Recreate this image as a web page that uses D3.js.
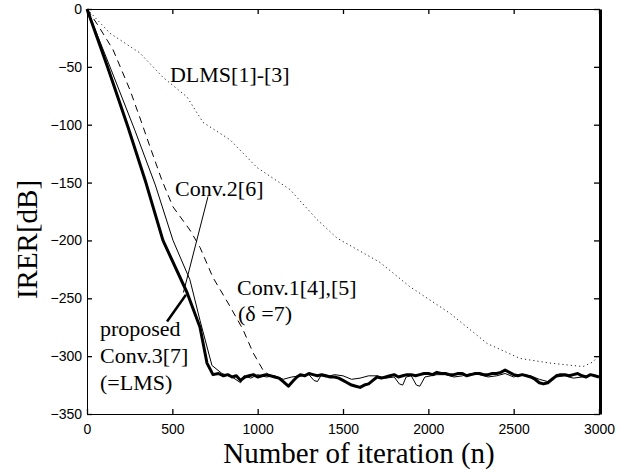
<!DOCTYPE html>
<html>
<head>
<meta charset="utf-8">
<script src="https://cdn.jsdelivr.net/npm/d3@7"></script>
<style>
  body { margin: 0; background: #fff; }
</style>
</head>
<body>
<script>
var W = 631, H = 476;
var margin = { top: 9, right: 32, bottom: 62, left: 87 };
var SERIF = "'Liberation Serif', 'Times New Roman', serif";
var SANS = "'Liberation Sans', Arial, sans-serif";

// tick values
var xTicks = [0, 500, 1000, 1500, 2000, 2500, 3000];
var yTicks = [0, -50, -100, -150, -200, -250, -300, -350];

// series: [iteration, IRER dB]
var dlms = [[0, 0], [135, -21], [310, -38], [445, -59], [586, -76], [680, -98], [838, -113],
  [996, -137], [1189, -156], [1348, -182], [1465, -198], [1717, -219], [1892, -240],
  [2127, -263], [2344, -289], [2537, -302], [2713, -306], [2906, -309], [2965, -305], [3000, -299]];

var conv1 = [[0, 0], [64, -14], [152, -35], [252, -70], [322, -99], [369, -119], [439, -148],
  [504, -171], [603, -191], [662, -206], [738, -232], [838, -257], [914, -277], [973, -297],
  [1031, -312], [1072, -317], [1100, -318]];

var conv2 = [[0, 0], [140, -52], [281, -105], [400, -152], [504, -200], [603, -234], [662, -269],
  [732, -308], [791, -315], [850, -318], [900, -323], [920, -317], [960, -319], [1000, -316],
  [1050, -318], [1100, -317], [1150, -320], [1200, -318], [1250, -317], [1300, -316],
  [1330, -321], [1350, -322], [1370, -317], [1400, -318], [1450, -316], [1500, -317],
  [1550, -320], [1600, -319], [1650, -317], [1700, -317], [1750, -319], [1800, -318],
  [1830, -324], [1850, -325], [1870, -318], [1900, -317], [1930, -325], [1950, -326],
  [1980, -318], [2050, -316], [2100, -316], [2150, -318], [2200, -317], [2250, -315],
  [2300, -316], [2350, -318], [2400, -317], [2450, -315], [2500, -318], [2550, -316],
  [2600, -317], [2650, -320], [2700, -322], [2750, -318], [2800, -317], [2850, -319],
  [2900, -318], [2950, -316], [3000, -318]];

var proposed = [[0, 0], [120, -50], [240, -102], [345, -150], [445, -200], [586, -245], [662, -275],
  [703, -306], [738, -316], [770, -315], [800, -317], [825, -316], [850, -318], [875, -317],
  [900, -321], [925, -318], [950, -317], [975, -316], [1000, -318], [1025, -317],
  [1050, -316], [1075, -317], [1100, -318], [1125, -319], [1150, -322], [1180, -326],
  [1210, -321], [1230, -318], [1250, -316], [1275, -317], [1300, -315], [1325, -316],
  [1350, -317], [1375, -316], [1400, -317], [1425, -318], [1450, -318], [1475, -319],
  [1500, -321], [1525, -323], [1550, -325], [1575, -326], [1600, -327], [1625, -325],
  [1650, -324], [1675, -321], [1700, -318], [1725, -319], [1750, -318], [1775, -317],
  [1800, -316], [1825, -318], [1850, -317], [1875, -316], [1900, -316], [1925, -317],
  [1950, -316], [1975, -315], [2000, -315], [2025, -316], [2050, -314], [2075, -315],
  [2100, -315], [2125, -316], [2150, -316], [2175, -315], [2200, -315], [2225, -317],
  [2250, -316], [2275, -315], [2300, -315], [2325, -316], [2350, -316], [2375, -315],
  [2400, -315], [2425, -314], [2450, -312], [2475, -314], [2500, -316], [2525, -317],
  [2550, -316], [2575, -317], [2600, -318], [2625, -320], [2650, -323], [2675, -324],
  [2700, -323], [2725, -320], [2750, -317], [2775, -316], [2800, -316], [2825, -317],
  [2850, -316], [2875, -315], [2900, -317], [2925, -318], [2950, -316], [2975, -317], [3000, -318]];

// annotation text anchors [iteration, dB]
var labels = [
  { text: "DLMS[1]-[3]", at: [486, -63] },
  { text: "Conv.2[6]", at: [516, -162] },
  { text: "Conv.1[4],[5]", at: [879, -247] },
  { text: "(\u03b4 =7)", at: [885, -270] },
  { text: "proposed", at: [76, -283] },
  { text: "Conv.3[7]", at: [76, -306] },
  { text: "(=LMS)", at: [76, -329] }
];
var leaders = [
  { from: [709, -162], to: [565, -245], w: 1 },
  { from: [469, -270], to: [580, -247], w: 2.5 }
];

var width = W - margin.left - margin.right,
    height = H - margin.top - margin.bottom;

var svg = d3.select("body").append("svg")
  .attr("width", W).attr("height", H)
  .append("g")
  .attr("transform", "translate(" + margin.left + "," + margin.top + ")");

var x = d3.scaleLinear().domain([0, 3000]).range([0, width]);
var y = d3.scaleLinear().domain([-350, 0]).range([height, 0]);

var line = d3.line()
  .x(function (d) { return x(d[0]); })
  .y(function (d) { return y(d[1]); });

// axes, ticks pointing inward
function styleAxis(g, w) {
  g.select(".domain").attr("stroke", "#000").attr("stroke-width", w).attr("fill", "none");
  g.selectAll(".tick line").attr("stroke", "#000").attr("stroke-width", 1.3);
  g.selectAll(".tick text").attr("fill", "#000")
    .style("font-family", SANS).style("font-size", "14px");
}
svg.append("g")
  .attr("transform", "translate(0," + height + ")")
  .call(d3.axisBottom(x).tickValues(xTicks).tickSize(-5).tickSizeOuter(0).tickPadding(10)
    .tickFormat(d3.format("d")))
  .call(styleAxis, 1);
svg.append("g")
  .call(d3.axisLeft(y).tickValues(yTicks).tickSize(-5).tickSizeOuter(0).tickPadding(5)
    .tickFormat(d3.format("d")))
  .call(styleAxis, 1);
svg.append("g")
  .call(d3.axisTop(x).tickValues(xTicks).tickSize(-5).tickSizeOuter(0).tickFormat(""))
  .call(styleAxis, 1);
svg.append("g")
  .attr("transform", "translate(" + (width + 1) + ",0)")
  .call(d3.axisRight(y).tickValues(yTicks).tickSize(-6).tickSizeOuter(0).tickFormat(""))
  .call(styleAxis, 3);

// curves
svg.append("path").datum(dlms)
  .attr("fill", "none").attr("stroke", "#222").attr("stroke-width", 1)
  .attr("stroke-dasharray", "1.2,3").attr("d", line);
svg.append("path").datum(conv1)
  .attr("fill", "none").attr("stroke", "#000").attr("stroke-width", 1)
  .attr("stroke-dasharray", "7,5").attr("d", line);
svg.append("path").datum(conv2)
  .attr("fill", "none").attr("stroke", "#000").attr("stroke-width", 1).attr("d", line);
svg.append("path").datum(proposed)
  .attr("fill", "none").attr("stroke", "#000").attr("stroke-width", 3)
  .attr("stroke-linejoin", "round").attr("d", line);

// leader lines
svg.selectAll(".leader").data(leaders).enter().append("line")
  .attr("class", "leader")
  .attr("x1", function (d) { return x(d.from[0]); })
  .attr("y1", function (d) { return y(d.from[1]); })
  .attr("x2", function (d) { return x(d.to[0]); })
  .attr("y2", function (d) { return y(d.to[1]); })
  .attr("stroke", "#000")
  .attr("stroke-width", function (d) { return d.w; });

// annotation labels
svg.selectAll(".lab").data(labels).enter().append("text")
  .attr("class", "lab")
  .attr("x", function (d) { return x(d.at[0]); })
  .attr("y", function (d) { return y(d.at[1]); })
  .attr("fill", "#000")
  .style("font-family", SERIF)
  .style("font-size", "22px")
  .text(function (d) { return d.text; });

// axis titles
svg.append("text")
  .attr("transform", "translate(" + (width / 2 + 16) + "," + (height + 49) + ")")
  .attr("fill", "#000")
  .style("text-anchor", "middle").style("font-family", SERIF).style("font-size", "29px")
  .text("Number of iteration (n)");
svg.append("text")
  .attr("transform", "translate(" + (-50) + "," + (height / 2 + 28) + ") rotate(-90)")
  .attr("fill", "#000")
  .style("text-anchor", "middle").style("font-family", SERIF).style("font-size", "29px")
  .text("IRER[dB]");
</script>
</body>
</html>
